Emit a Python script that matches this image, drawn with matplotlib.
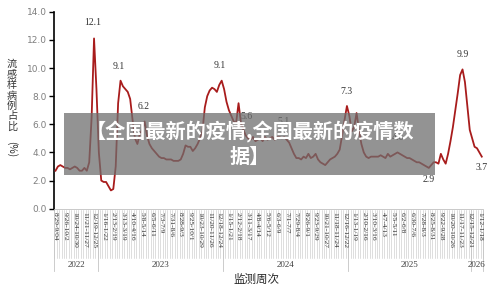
import numpy as np
import matplotlib
matplotlib.use("Agg")
import matplotlib.pyplot as plt
from matplotlib.patches import Rectangle
from matplotlib.transforms import blended_transform_factory

plt.rcParams["font.family"] = ["Noto Sans CJK SC", "DejaVu Sans"]

# weekly share of influenza-like illness (%), grouped by surveillance year
ili_2022 = [2.7, 3.0, 3.1, 3.0, 2.9, 2.9, 2.8, 2.9, 3.0, 2.9, 2.7, 2.7, 2.9, 2.7,
            3.3, 6.5, 12.1, 8.5]
ili_2023 = [4.0, 2.0, 1.9, 1.9, 1.6, 1.3, 1.4, 3.0, 7.5, 9.1, 8.7, 8.5, 8.3, 7.8,
            6.3, 5.0, 4.6, 5.3, 5.6, 6.2, 5.2, 4.6, 4.3, 4.1, 3.9, 3.7, 3.6, 3.6,
            3.5, 3.5, 3.5, 3.4, 3.4, 3.4, 3.5, 3.9, 4.5, 4.4, 4.4, 4.1, 4.3, 4.6,
            5.0, 5.5, 7.2, 8.0, 8.4, 8.6, 8.5, 8.3, 8.8, 9.1]
ili_2024 = [8.5, 7.6, 7.0, 6.6, 6.2, 6.1, 7.5, 6.1, 5.6, 5.2, 5.0, 4.9, 5.1, 4.8,
            4.9, 5.0, 4.8, 5.1, 4.9, 5.0, 5.1, 4.9, 5.1, 5.1, 5.0, 5.1, 4.9, 4.7,
            4.3, 3.9, 3.6, 3.6, 3.5, 3.7, 3.6, 3.9, 3.6, 3.7, 3.9, 3.5, 3.3, 3.2,
            3.1, 3.3, 3.5, 3.6, 3.7, 3.9, 4.2, 5.2, 6.3, 7.3]
ili_2025 = [6.6, 5.5, 5.8, 6.8, 5.6, 4.6, 4.0, 3.7, 3.6, 3.7, 3.7, 3.7, 3.7, 3.8,
            3.7, 3.6, 3.9, 3.7, 3.8, 3.9, 4.0, 3.9, 3.8, 3.7, 3.6, 3.6, 3.5, 3.4,
            3.3, 3.3, 3.2, 3.1, 3.0, 2.9, 3.1, 3.3, 3.3, 3.2, 3.9, 3.5, 3.2, 3.9,
            4.8, 5.8, 7.0, 8.2, 9.5, 9.9, 9.0, 7.3, 5.6]
ili_2026 = [5.0, 4.4, 4.3, 4.0, 3.7]

years = ["2022", "2023", "2024", "2025", "2026"]
week_labels = [
    "8/29-9/04", "9/26-10/2", "10/24-10/30", "11/21-11/27", "12/19-12/25",
    "1/16-1/22", "2/13-2/19", "3/13-3/19", "4/10-4/16", "5/8-5/14", "6/5-6/11",
    "7/3-7/9", "7/31-8/6", "8/28-9/3", "9/25-10/1", "10/23-10/29", "11/20-11/26",
    "12/18-12/24", "1/15-1/21", "2/12-2/18", "3/11-3/17", "4/8-4/14", "5/6-5/12",
    "6/3-6/9", "7/1-7/7", "7/29-8/4", "8/26-9/1", "9/23-9/29", "10/21-10/27",
    "11/18-11/24", "12/16-12/22", "1/13-1/19", "2/10-2/16", "3/10-3/16",
    "4/7-4/13", "5/5-5/11", "6/2-6/8", "6/30-7/6", "7/28-8/3", "8/25-8/31",
    "9/22-9/28", "10/20-10/26", "11/17-11/23", "12/15-12/21", "1/12-1/18",
]
# (week index, shown text, label offset in points)
peak_labels = [
    (16, "12.1", (-0.7, 11.5)),
    (27, "9.1", (-1.0, 10.5)),
    (37, "6.2", (-1.0, 10.5)),
    (69, "9.1", (-1.2, 10.8)),
    (78, "5.6", (2.0, 10.0)),
    (93, "5.1", (2.6, 10.8)),
    (121, "7.3", (0.0, 10.3)),
    (142, "4.6", (0.4, 10.4)),
    (155, "2.9", (0.0, -8.6)),
    (169, "9.9", (0.0, 10.8)),
    (177, "3.7", (0.0, -7.6)),
]

series = [ili_2022, ili_2023, ili_2024, ili_2025, ili_2026]
values = np.concatenate(series)
weeks = np.arange(len(values))
year_sizes = [len(s) for s in series]

fig = plt.figure(figsize=(5, 2.9), dpi=100)
ax = fig.add_axes([0.1086, 0.2803, 0.8574, 0.6793])

ax.plot(weeks, values, color="#a81c1c", lw=1.3, solid_joinstyle="round", zorder=3)
ax.set_xlim(-0.5, len(values) - 0.5)
ax.set_ylim(0, 14)
ax.set_yticks(np.arange(0, 15, 2))
ax.set_yticklabels([f"{v:.1f}" for v in np.arange(0, 15, 2)], color="#7f7f7f",
                   fontsize=6.5, fontfamily="DejaVu Sans")
ax.tick_params(axis="y", direction="out", length=3.5, width=1, color="black", pad=2)

ax.set_xticks(weeks[::4])
ax.set_xticklabels(week_labels, rotation=-90, fontsize=5.3,
                   fontfamily="Liberation Serif", color="#333333")
ax.tick_params(axis="x", length=0, pad=2.5)

for side in ["top", "right"]:
    ax.spines[side].set_visible(False)
ax.spines["left"].set_linewidth(1.2)
ax.spines["bottom"].set_color("#c0c0c0")
ax.spines["bottom"].set_linewidth(0.6)

for idx, txt, off in peak_labels:
    ax.annotate(txt, (idx, values[idx]), xytext=off, textcoords="offset points",
                ha="center", va="center", fontsize=7,
                fontfamily="Liberation Serif", color="#333333")

# multi-level category axis: week lines and year groups
trans = blended_transform_factory(ax.transData, fig.transFigure)
for b in np.arange(len(values) + 1) - 0.5:
    ax.plot([b, b], [0.2759, 0.1103], transform=trans, color="#c4c4c4",
            lw=0.4, clip_on=False, zorder=1)
edges = np.concatenate([[0], np.cumsum(year_sizes)]) - 0.5
for e in edges:
    ax.plot([e, e], [0.2759, 0.0655], transform=trans, color="#c4c4c4",
            lw=0.6, clip_on=False, zorder=1)
for yr, lo, hi in zip(years, edges[:-1], edges[1:]):
    ax.text((lo + hi) / 2, 0.0862, yr, transform=trans, ha="center",
            va="center", fontsize=6.5, fontfamily="Liberation Serif",
            color="#404040")

fig.text(0.514, 0.036, "监测周次", ha="center", va="center", fontsize=8.3,
         color="#262626")
fig.text(0.024, 0.67, "\n".join("流感样病例占比"), ha="center", va="center",
         fontsize=7.3, linespacing=1.05, color="#333333")
fig.text(0.024, 0.486, "(%)", ha="center", va="center", rotation=-90,
         fontsize=7.3, color="#333333")

# watermark banner
fig.add_artist(Rectangle((0.128, 0.3966), 0.742, 0.2137, transform=fig.transFigure,
                         facecolor="#6e6e6e", alpha=0.74, edgecolor="none",
                         zorder=10))
fig.text(0.5, 0.503, "【全国最新的疫情,全国最新的疫情数\n据】", ha="center",
         va="center", multialignment="center", fontsize=14.5, fontweight="bold",
         linespacing=1.2, color="white", zorder=11)

fig.savefig("out.png", dpi=100)
